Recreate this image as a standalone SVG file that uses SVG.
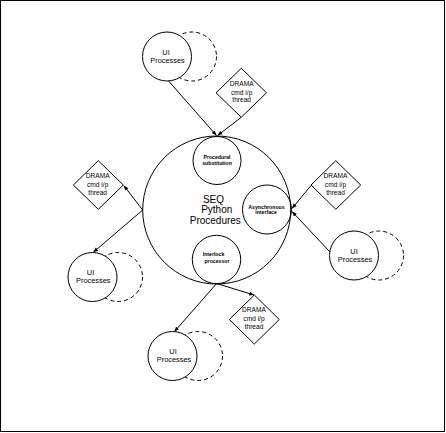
<svg xmlns="http://www.w3.org/2000/svg" width="446" height="433" viewBox="0 0 446 433">
<style>
.ln{stroke:#000;stroke-width:1;fill:none}
.sol{stroke:#000;stroke-width:1;fill:#fff}
.dsh{stroke:#000;stroke-width:1;fill:none;stroke-dasharray:4 3}
.t{font-family:"Liberation Sans",Arial,sans-serif;fill:#000;text-anchor:middle}
.ui{font-size:7.4px}
.dr{font-size:6.6px}
.sm{font-size:5.2px;font-weight:bold}
.big{font-size:10px}
</style>
<defs>
<marker id="ah" viewBox="0 0 10 10" refX="10" refY="5" markerWidth="5" markerHeight="5" orient="auto" markerUnits="userSpaceOnUse">
<path d="M0,1 L10,5 L0,9 z" fill="#000"/>
</marker>
</defs>
<rect x="0.5" y="0.5" width="444" height="431" fill="#fff" stroke="#000" stroke-width="1"/>

<g id="connectors">
<line class="ln" x1="168.3" y1="80.7" x2="216.5" y2="135.5" marker-end="url(#ah)"/>
<line class="ln" x1="241.3" y1="117.3" x2="217.5" y2="135.5" marker-end="url(#ah)"/>
<line class="ln" x1="142.7" y1="210" x2="123.8" y2="185.5" marker-end="url(#ah)"/>
<line class="ln" x1="142.7" y1="210" x2="93.3" y2="252.3" marker-end="url(#ah)"/>
<line class="ln" x1="311" y1="185.5" x2="292" y2="208.5" marker-end="url(#ah)"/>
<line class="ln" x1="330" y1="252" x2="292" y2="211.5" marker-end="url(#ah)"/>
<line class="ln" x1="216.7" y1="283.5" x2="174.3" y2="331.7" marker-end="url(#ah)"/>
<line class="ln" x1="216.7" y1="283.5" x2="254" y2="295" marker-end="url(#ah)"/>
</g>

<g id="seq">
<circle class="ln" cx="216.7" cy="210" r="74"/>
<text class="t big" x="213.5" y="202.5">SEQ</text>
<text class="t big" x="216.7" y="213">Python</text>
<text class="t big" x="215.3" y="224">Procedures</text>
</g>

<g id="procedural">
<circle class="ln" cx="217" cy="160.5" r="24"/>
<text class="t sm" x="217" y="158.5">Procedural</text>
<text class="t sm" x="217" y="165">substitution</text>
</g>

<g id="async">
<circle class="ln" cx="267" cy="209.5" r="24.5"/>
<text class="t sm" x="266.5" y="208.5">Asynchronous</text>
<text class="t sm" x="266" y="214">interface</text>
</g>

<g id="interlock">
<circle class="ln" cx="216.5" cy="259.5" r="24.2"/>
<text class="t sm" x="213.5" y="256">Interlock</text>
<text class="t sm" x="217" y="262.5">processor</text>
</g>

<g id="ui-top">
<circle class="dsh" cx="192" cy="56.5" r="24.5"/>
<circle class="sol" cx="167" cy="56.5" r="24.5"/>
<text class="t ui" x="166" y="54.5">UI</text>
<text class="t ui" x="167.5" y="63">Processes</text>
</g>

<g id="ui-right">
<circle class="dsh" cx="379" cy="255.5" r="24.5"/>
<circle class="sol" cx="354" cy="255.5" r="24.5"/>
<text class="t ui" x="354" y="253.5">UI</text>
<text class="t ui" x="355" y="262">Processes</text>
</g>

<g id="ui-left">
<circle class="dsh" cx="118" cy="277" r="24.5"/>
<circle class="sol" cx="92.5" cy="277" r="24.5"/>
<text class="t ui" x="90.5" y="274.5">UI</text>
<text class="t ui" x="93.3" y="283">Processes</text>
</g>

<g id="ui-bottom">
<circle class="dsh" cx="198" cy="356" r="24.5"/>
<circle class="sol" cx="172.5" cy="356" r="24.5"/>
<text class="t ui" x="173" y="353.5">UI</text>
<text class="t ui" x="174" y="362">Processes</text>
</g>

<g id="drama-top">
<polygon class="sol" points="241.3,68.3 266.5,92.8 241.3,117.3 216,92.8"/>
<text class="t dr" x="241.7" y="86.3">DRAMA</text>
<text class="t dr" x="241.7" y="94.8">cmd i/p</text>
<text class="t dr" x="241.7" y="102.3">thread</text>
</g>

<g id="drama-left">
<polygon class="sol" points="98.3,160.7 123.3,185 98.3,209.3 73.3,185"/>
<text class="t dr" x="97.7" y="178">DRAMA</text>
<text class="t dr" x="97.7" y="186.5">cmd i/p</text>
<text class="t dr" x="97.7" y="195">thread</text>
</g>

<g id="drama-right">
<polygon class="sol" points="335.8,160.7 360.7,185 335.8,209.3 311,185"/>
<text class="t dr" x="335.5" y="178">DRAMA</text>
<text class="t dr" x="335.5" y="186.5">cmd i/p</text>
<text class="t dr" x="335.5" y="195">thread</text>
</g>

<g id="drama-bottom">
<polygon class="sol" points="254.3,295 279.3,319.5 254.3,344 229.3,319.5"/>
<text class="t dr" x="254" y="312.3">DRAMA</text>
<text class="t dr" x="254" y="320.6">cmd i/p</text>
<text class="t dr" x="254" y="329">thread</text>
</g>
</svg>
